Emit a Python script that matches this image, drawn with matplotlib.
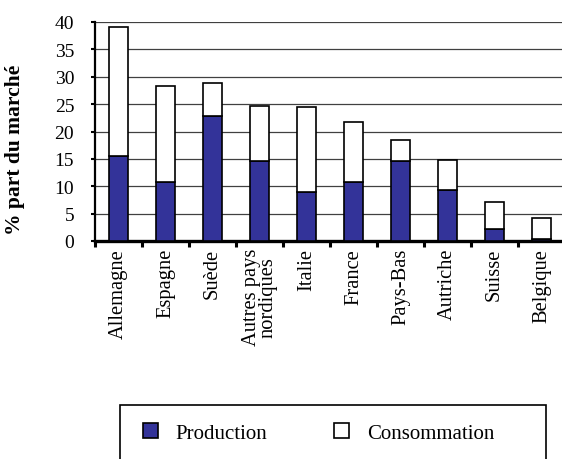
import matplotlib
matplotlib.use("Agg")
import matplotlib.pyplot as plt
import matplotlib.patches as mpatches
import numpy as np

categories = ["Allemagne", "Espagne", "Suède", "Autres pays\nnordiques", "Italie",
              "France", "Pays-Bas", "Autriche", "Suisse", "Belgique"]
production = [15.5, 10.8, 22.9, 14.7, 8.9, 10.8, 14.7, 9.3, 2.2, 0.4]
total = [39.0, 28.4, 28.8, 24.7, 24.4, 21.8, 18.5, 14.8, 7.2, 4.2]
consommation = [t - p for t, p in zip(total, production)]
yticks = [0, 5, 10, 15, 20, 25, 30, 35, 40]

plt.rcParams['font.family'] = ['Liberation Serif', 'DejaVu Serif']

W, H = 562, 460
fig = plt.figure(figsize=(W / 100, H / 100), dpi=100)
ax = fig.add_axes([95 / W, 1 - 242 / H, 470 / W, 219 / H])

x = np.arange(len(categories))
bw = 0.42
ax.bar(x, production, width=bw, color='#333399', edgecolor='black', linewidth=1.2,
       label='Production', zorder=3)
ax.bar(x, consommation, width=bw, bottom=production, color='white', edgecolor='black',
       linewidth=1.2, label='Consommation', zorder=3)

ax.set_xlim(-0.5, len(categories) - 0.5)
ax.set_ylim(0, 40)
ax.set_yticks(yticks)
ax.set_yticklabels([str(v) for v in yticks], fontsize=14)
ax.yaxis.grid(True, color='#404040', linewidth=0.9, zorder=0)
ax.set_axisbelow(True)

ax.set_xticks(x)
ax.set_xticklabels(categories, rotation=90, fontsize=14.8, va='top', ha='center',
                   linespacing=0.85)
ax.set_xticks(np.arange(len(categories) + 1) - 0.5, minor=True)
ax.tick_params(axis='x', which='major', length=0, pad=5)
ax.tick_params(axis='x', which='minor', length=4, width=2.2, direction='out')
ax.tick_params(axis='y', which='major', length=3, width=1.5, direction='out', pad=12)

for s in ['top', 'right']:
    ax.spines[s].set_visible(False)
ax.spines['left'].set_linewidth(1.6)
ax.spines['bottom'].set_linewidth(2.4)

fig.text(15 / W, 1 - 150 / H, "% part du marché", rotation=90, fontsize=15.5,
         fontweight='bold', ha='center', va='center')

# legend frame
frame = mpatches.Rectangle((120 / W, -0.05), (546 - 120) / W, 0.05 + (1 - 406 / H),
                           transform=fig.transFigure, fill=False, edgecolor='black',
                           linewidth=1.2, clip_on=False)
fig.patches.append(frame)

handles, labels = ax.get_legend_handles_labels()
leg = fig.legend(handles, labels, loc='center left',
                 bbox_to_anchor=(143 / W, 1 - 434 / H), ncol=2, frameon=False,
                 fontsize=15, handlelength=0.72, handleheight=0.72,
                 handletextpad=0.85, columnspacing=3.2, borderpad=0, borderaxespad=0)

fig.savefig("out.png", dpi=100)
